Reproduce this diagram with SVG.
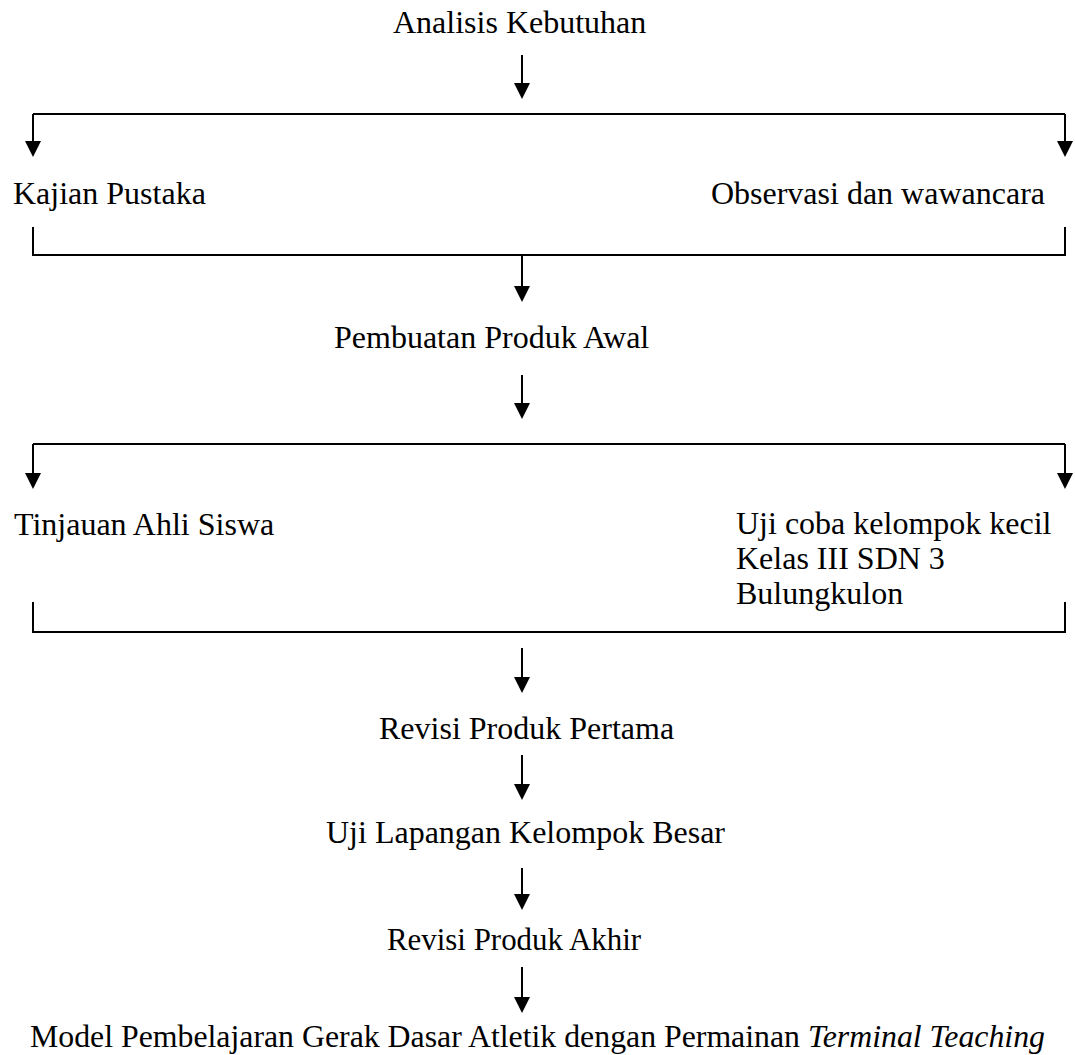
<svg xmlns="http://www.w3.org/2000/svg" width="1075" height="1055" viewBox="0 0 1075 1055">
  <style>
    text { font-family: "Liberation Serif", "Times New Roman", serif; font-size: 32px; fill: #000; }
    .it { font-style: italic; }
    .ln { fill: none; stroke: #000; stroke-width: 2; }
    .arr { fill: none; stroke: #000; stroke-width: 2; marker-end: url(#head); }
  </style>
  <defs>
    <marker id="head" markerUnits="userSpaceOnUse" markerWidth="16" markerHeight="16" refX="12" refY="8" orient="auto" viewBox="0 0 16 16">
      <path d="M0,0 L16,8 L0,16 z" fill="#000"/>
    </marker>
  </defs>

  <rect width="1075" height="1055" fill="#fff"/>

  <!-- connectors -->
  <g id="connectors">
    <!-- analysis -> split -->
    <line class="arr" x1="522" y1="55" x2="522" y2="95"/>
    <!-- split into two branches -->
    <polyline class="ln" points="33,114 1065,114"/>
    <line class="arr" x1="33" y1="114" x2="33" y2="153"/>
    <line class="arr" x1="1065" y1="114" x2="1065" y2="153"/>
    <!-- merge bracket -->
    <polyline class="ln" points="33,227 33,255 1065,255 1065,227"/>
    <line class="arr" x1="522" y1="255" x2="522" y2="298"/>
    <!-- initial product -> split -->
    <line class="arr" x1="522" y1="375" x2="522" y2="415"/>
    <polyline class="ln" points="33,444 1065,444"/>
    <line class="arr" x1="33" y1="444" x2="33" y2="485"/>
    <line class="arr" x1="1065" y1="444" x2="1065" y2="485"/>
    <!-- merge bracket -->
    <polyline class="ln" points="33,602 33,632 1065,632 1065,602"/>
    <!-- vertical chain -->
    <line class="arr" x1="522" y1="648" x2="522" y2="689"/>
    <line class="arr" x1="522" y1="755" x2="522" y2="796"/>
    <line class="arr" x1="522" y1="868" x2="522" y2="906"/>
    <line class="arr" x1="522" y1="967" x2="522" y2="1009"/>
  </g>

  <g id="analisis"><text x="393" y="33">Analisis Kebutuhan</text></g>
  <g id="kajian"><text x="13" y="204">Kajian Pustaka</text></g>
  <g id="observasi"><text x="1045" y="204" text-anchor="end">Observasi dan wawancara</text></g>
  <g id="produk-awal"><text x="334" y="348">Pembuatan Produk Awal</text></g>
  <g id="tinjauan"><text x="14" y="535">Tinjauan Ahli Siswa</text></g>
  <g id="uji-coba">
    <text x="736" y="534">Uji coba kelompok kecil</text>
    <text x="736" y="569">Kelas III SDN 3</text>
    <text x="736" y="604">Bulungkulon</text>
  </g>
  <g id="revisi-pertama"><text x="379" y="739">Revisi Produk Pertama</text></g>
  <g id="uji-lapangan"><text x="326" y="843">Uji Lapangan Kelompok Besar</text></g>
  <g id="revisi-akhir"><text x="387" y="950" textLength="254" lengthAdjust="spacingAndGlyphs">Revisi Produk Akhir</text></g>
  <g id="model"><text x="30" y="1047" textLength="1015" lengthAdjust="spacingAndGlyphs">Model Pembelajaran Gerak Dasar Atletik dengan Permainan <tspan class="it">Terminal Teaching</tspan></text></g>
</svg>
